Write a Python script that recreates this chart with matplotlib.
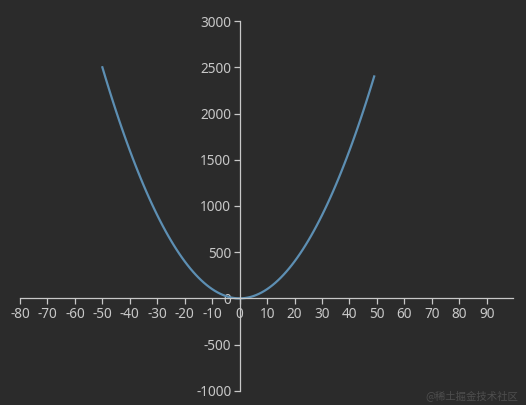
import numpy as np
import matplotlib.pyplot as plt

plt.rcParams['font.family'] = ['Noto Sans', 'Noto Sans CJK SC', 'DejaVu Sans']
plt.rcParams['axes.unicode_minus'] = False

# values (y = x squared)
x = list(range(-50, 50))
y = [2500, 2401, 2304, 2209, 2116, 2025, 1936, 1849, 1764, 1681,
     1600, 1521, 1444, 1369, 1296, 1225, 1156, 1089, 1024, 961,
     900, 841, 784, 729, 676, 625, 576, 529, 484, 441,
     400, 361, 324, 289, 256, 225, 196, 169, 144, 121,
     100, 81, 64, 49, 36, 25, 16, 9, 4, 1,
     0, 1, 4, 9, 16, 25, 36, 49, 64, 81,
     100, 121, 144, 169, 196, 225, 256, 289, 324, 361,
     400, 441, 484, 529, 576, 625, 676, 729, 784, 841,
     900, 961, 1024, 1089, 1156, 1225, 1296, 1369, 1444, 1521,
     1600, 1681, 1764, 1849, 1936, 2025, 2116, 2209, 2304, 2401]
xticks = list(range(-80, 100, 10))
yticks = list(range(-1000, 3001, 500))

bg = '#2b2b2b'
fg = '#c8c8c8'

fig = plt.figure(figsize=(5.26, 4.05), dpi=100, facecolor=bg)
ax = fig.add_axes([0.038, 0.035, 0.937, 0.913], facecolor=bg)

ax.plot(x, y, color='#5d8fb3', linewidth=1.6)

ax.set_xlim(-80, 99.5)
ax.set_ylim(-1000, 3000)
ax.set_xticks(xticks)
ax.set_yticks(yticks)

ax.spines['left'].set_position(('data', 0))
ax.spines['bottom'].set_position(('data', 0))
ax.spines['right'].set_visible(False)
ax.spines['top'].set_visible(False)
for s in ('left', 'bottom'):
    ax.spines[s].set_color(fg)
    ax.spines[s].set_linewidth(0.9)

ax.tick_params(colors=fg, labelsize=9.8, length=4, width=0.9)
ax.tick_params(axis='y', pad=2)
ax.tick_params(axis='x', pad=2)

fig.text(0.985, 0.01, '@稀土掘金技术社区', color='#4e4e4e', fontsize=7.5,
         ha='right', va='bottom', family=['Noto Sans CJK SC', 'DejaVu Sans'])

fig.savefig('out.png', facecolor=bg)
